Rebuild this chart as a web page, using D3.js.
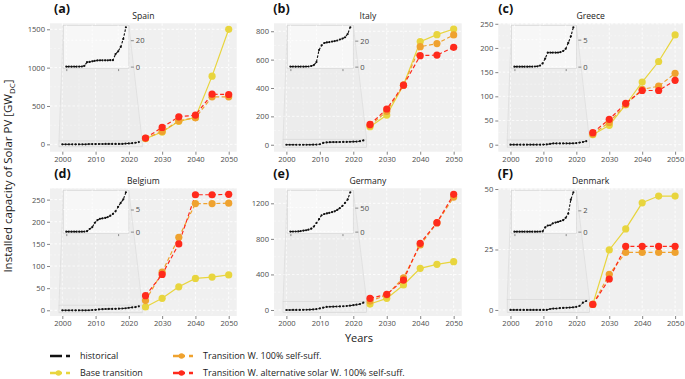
<!DOCTYPE html>
<html><head><meta charset="utf-8">
<script src="https://cdn.jsdelivr.net/npm/d3@7"></script>
<style>body{margin:0;background:#fff;} text{font-family:"Open Sans",sans-serif;}</style>
</head><body><svg id="c" width="685" height="379"></svg>
<script>
// ---------------- DATA ----------------
const histYears = [2000,2001,2002,2003,2004,2005,2006,2007,2008,2009,2010,2011,2012,2013,2014,2015,2016,2017,2018,2019,2020,2021,2022,2023];
const scenYears = [2025,2030,2035,2040,2045,2050];

const countries = ["Spain","Italy","Greece","Belgium","Germany","Denmark"];
const panelTags = ["(a)","(b)","(c)","(d)","(e)","(F)"];

const histSpain   = [0.01,0.01,0.02,0.03,0.02,0.05,0.1,0.6,3.4,3.6,4.0,4.4,4.7,4.8,4.8,4.8,4.8,4.9,4.9,9.5,11.6,14.9,21.0,29.8];
const histItaly   = [0.02,0.02,0.02,0.03,0.03,0.03,0.05,0.12,0.5,1.2,3.5,12.8,16.4,18.2,18.6,18.9,19.3,19.7,20.1,20.9,21.6,22.6,25.1,30.3];
const histGreece  = [0,0,0,0,0,0,0.01,0.01,0.02,0.05,0.2,0.6,1.5,2.6,2.6,2.6,2.6,2.6,2.7,2.9,3.3,4.4,5.6,7.3];
const histBelgium = [0,0,0,0,0,0,0,0.02,0.1,0.6,1.0,2.0,2.6,2.9,3.0,3.1,3.3,3.6,4.0,4.6,5.6,6.5,7.3,8.9];
const histGermany = [0.1,0.2,0.3,0.4,1.1,2.1,2.9,4.2,6.1,10.6,18.0,25.9,34.1,36.7,37.9,39.2,40.7,42.3,45.2,49.0,53.8,60.0,67.0,82.0];
const histDenmark = [0,0,0,0,0,0,0,0,0,0,0.01,0.02,0.4,0.57,0.6,0.78,0.85,0.91,1.0,1.08,1.3,1.7,3.0,3.7];

const baseSpain   = [75,160,300,350,889,1500];
const selfSpain   = [78,168,307,346,619,619];
const altSpain    = [82,221,359,381,654,650];
const baseItaly   = [127,209,421,727,776,816];
const selfItaly   = [135,235,420,691,713,774];
const altItaly    = [143,252,420,628,632,687];
const baseGreece  = [20.7,40,82.6,129.5,172,227];
const selfGreece  = [22,46,83,114.4,121,147.5];
const altGreece   = [24.8,52.4,85.5,112,112,133];
const baseBelgium = [7.5,27,53,72,75,80];
const selfBelgium = [22,86,165,241,241,242];
const altBelgium  = [33,81,150,261,261,262];
const baseGermany = [67,131,281,469,514,544];
const selfGermany = [100,170,363,731,980,1270];
const altGermany  = [131,176,337,750,982,1301];
const baseDenmark = [2.3,24.8,33.5,44.3,47.1,47.1];
const selfDenmark = [2.3,14.7,23.8,23.8,23.8,23.8];
const altDenmark  = [2.3,12.8,26.3,26.3,26.3,26.3];

const yTicksMain = [[0,500,1000,1500],[0,200,400,600,800],[0,50,100,150,200,250],[0,50,100,150,200,250],[0,400,800,1200],[0,25,50]];
const yTicksInset = [[0,20],[0,20],[0,5],[0,5],[0,50],[0,2]];
const xTicks = [2000,2010,2020,2030,2040,2050];
const insetXTicks = [2000,2020];

const seriesNames = ["historical","Base transition","Transition W. 100% self-suff.","Transition W. alternative solar W. 100% self-suff."];

// ---------------- LAYOUT / STYLE ----------------
const hists = [histSpain,histItaly,histGreece,histBelgium,histGermany,histDenmark];
const bases = [baseSpain,baseItaly,baseGreece,baseBelgium,baseGermany,baseDenmark];
const selfs = [selfSpain,selfItaly,selfGreece,selfBelgium,selfGermany,selfDenmark];
const alts  = [altSpain,altItaly,altGreece,altBelgium,altGermany,altDenmark];
const yDomains = [[-96,1578],[-49,856],[-14.5,251],[-12.9,275.6],[-67.5,1369],[-2.5,50.3]];

const colL = [50,274,498.3], colR = [236.7,461.7,683];
const rowT = [23.3,188.3], rowB = [151.7,316];
const tagX = [54,273.3,498.3,54.3,273.3,497.7];
const C = {hist:"#111111", base:"#E8D53E", self:"#EFA22F", alt:"#FF2A1C"};
const tickCol = "#4d4d4d";
const fmt = d3.format("d");

const svg = d3.select("#c");

function drawPanel(i){
  const col = i%3, row = Math.floor(i/3);
  const L = colL[col], R = colR[col], T = rowT[row], B = rowB[row];
  const x = d3.scaleLinear().domain([1996.3,2052.4]).range([L,R]);
  const y = d3.scaleLinear().domain(yDomains[i]).range([B,T]);
  const g = svg.append("g");
  g.append("rect").attr("x",L).attr("y",T).attr("width",R-L).attr("height",B-T).attr("fill","#f0f0f0");
  const yt = yTicksMain[i];
  const step = yt[1]-yt[0];
  const minorY = yt.map(v=>v+step/2).filter(v=>y(v)>T);
  const minorX = [2005,2015,2025,2035,2045];
  g.selectAll(null).data(minorY).enter().append("line")
    .attr("x1",L).attr("x2",R).attr("y1",d=>y(d)).attr("y2",d=>y(d))
    .attr("stroke","#fafafa").attr("stroke-width",0.5).attr("stroke-dasharray","2,2");
  g.selectAll(null).data(minorX).enter().append("line")
    .attr("y1",T).attr("y2",B).attr("x1",d=>x(d)).attr("x2",d=>x(d))
    .attr("stroke","#fafafa").attr("stroke-width",0.5).attr("stroke-dasharray","2,2");
  g.selectAll(null).data(yt).enter().append("line")
    .attr("x1",L).attr("x2",R).attr("y1",d=>y(d)).attr("y2",d=>y(d))
    .attr("stroke","#ffffff").attr("stroke-width",0.9).attr("stroke-dasharray","2.5,2");
  g.selectAll(null).data(xTicks).enter().append("line")
    .attr("y1",T).attr("y2",B).attr("x1",d=>x(d)).attr("x2",d=>x(d))
    .attr("stroke","#ffffff").attr("stroke-width",0.9).attr("stroke-dasharray","2.5,2");

  const ya = d3.axisLeft(y).tickValues(yt).tickFormat(fmt).tickSize(3).tickPadding(2);
  const ga = g.append("g").attr("transform",`translate(${L},0)`).call(ya);
  const xa = d3.axisBottom(x).tickValues(xTicks).tickFormat(fmt).tickSize(3).tickPadding(2);
  const gx = g.append("g").attr("transform",`translate(0,${B})`).call(xa);
  [ga,gx].forEach(a=>{
    a.select(".domain").remove();
    a.selectAll(".tick line").attr("stroke","#333").attr("stroke-width",0.6);
    a.selectAll(".tick text").attr("fill",tickCol).style("font-size","7.6px").style("font-family","'Open Sans',sans-serif");
  });

  const hist = hists[i];
  const hmax = d3.max(hist);
  const iL = x(2000.3), iR = x(2020), iT = T+2, iB = T+45.3;
  const tL = x(1999), tR = x(2024), tT = y(hmax*1.05)-1, tB = y(0)+2.5;
  g.append("path").attr("d",`M${iL},${iT}L${iR},${iT}L${tR},${tT}L${tR},${tB}L${tL},${tB}L${tL},${tT}Z`)
    .attr("fill","rgba(0,0,0,0.014)");
  g.append("line").attr("x1",iL).attr("y1",iT).attr("x2",tL).attr("y2",tT).attr("stroke","#d8d8d8").attr("stroke-width",0.6);
  g.append("line").attr("x1",iR).attr("y1",iT).attr("x2",tR).attr("y2",tT).attr("stroke","#d8d8d8").attr("stroke-width",0.6);
  g.append("rect").attr("x",tL).attr("y",tT).attr("width",tR-tL).attr("height",tB-tT)
    .attr("fill","none").attr("stroke","#d4d4d4").attr("stroke-width",0.6);

  const hpts = histYears.map((yr,k)=>[yr,hist[k]]);
  const line = d3.line().x(d=>x(d[0])).y(d=>y(d[1]));
  g.append("path").attr("d",line(hpts)).attr("fill","none").attr("stroke",C.hist).attr("stroke-width",1).attr("stroke-dasharray","2.5,1.5");
  g.selectAll(null).data(hpts).enter().append("circle").attr("cx",d=>x(d[0])).attr("cy",d=>y(d[1])).attr("r",1.1).attr("fill",C.hist);

  [[bases[i],C.base,null],[selfs[i],C.self,"4,2.5"],[alts[i],C.alt,"4,2.5"]].forEach(([vals,color,dash])=>{
    const pts = scenYears.map((yr,k)=>[yr,vals[k]]);
    const p = g.append("path").attr("d",line(pts)).attr("fill","none").attr("stroke",color).attr("stroke-width",1.2);
    if(dash) p.attr("stroke-dasharray",dash);
  });
  [[bases[i],C.base],[selfs[i],C.self],[alts[i],C.alt]].forEach(([vals,color])=>{
    const pts = scenYears.map((yr,k)=>[yr,vals[k]]);
    g.selectAll(null).data(pts).enter().append("circle").attr("cx",d=>x(d[0])).attr("cy",d=>y(d[1])).attr("r",3.6).attr("fill",color);
  });

  const ix = d3.scaleLinear().domain([1998.85,2024.15]).range([iL,iR]);
  const iy = d3.scaleLinear().domain([-0.05*hmax,1.05*hmax]).range([iB,iT]);
  const gi = svg.append("g");
  gi.append("rect").attr("x",iL).attr("y",iT).attr("width",iR-iL).attr("height",iB-iT)
    .attr("fill","#f7f7f7").attr("stroke","#d6d6d6").attr("stroke-width",0.7);
  gi.selectAll(null).data(yTicksInset[i]).enter().append("line")
    .attr("x1",iL).attr("x2",iR).attr("y1",d=>iy(d)).attr("y2",d=>iy(d))
    .attr("stroke","#ffffff").attr("stroke-width",0.8).attr("stroke-dasharray","2,2");
  gi.selectAll(null).data([2000,2010,2020]).enter().append("line")
    .attr("y1",iT).attr("y2",iB).attr("x1",d=>ix(d)).attr("x2",d=>ix(d))
    .attr("stroke","#ffffff").attr("stroke-width",0.8).attr("stroke-dasharray","2,2");
  const iya = d3.axisRight(iy).tickValues(yTicksInset[i]).tickFormat(fmt).tickSize(3).tickPadding(2);
  const gia = gi.append("g").attr("transform",`translate(${iR+2},0)`).call(iya);
  const ixa = d3.axisBottom(ix).tickValues(insetXTicks).tickFormat("").tickSize(2);
  const gix = gi.append("g").attr("transform",`translate(0,${iB+0.5})`).call(ixa);
  [gia,gix].forEach(a=>{
    a.select(".domain").remove();
    a.selectAll(".tick line").attr("stroke","#444").attr("stroke-width",0.6);
    a.selectAll(".tick text").attr("fill",tickCol).style("font-size","7.6px").style("font-family","'Open Sans',sans-serif");
  });
  const iline = d3.line().x(d=>ix(d[0])).y(d=>iy(d[1]));
  gi.append("path").attr("d",iline(hpts)).attr("fill","none").attr("stroke",C.hist).attr("stroke-width",1.1).attr("stroke-dasharray","2.5,1.5");
  gi.selectAll(null).data(hpts).enter().append("circle").attr("cx",d=>ix(d[0])).attr("cy",d=>iy(d[1])).attr("r",1.1).attr("fill",C.hist);

  svg.append("text").attr("x",(L+R)/2).attr("y",T-4.5).attr("text-anchor","middle")
    .style("font-size","8.6px").attr("fill","#1a1a1a").text(countries[i]);
  svg.append("text").attr("x",tagX[i]).attr("y",T-10).style("font-size","12.5px").style("font-weight","bold")
    .attr("fill","#111").text(panelTags[i]);
}
for(let i=0;i<6;i++) drawPanel(i);

const yl = svg.append("text").attr("transform","translate(12,176) rotate(-90)").attr("text-anchor","middle")
  .style("font-size","11.5px").attr("fill","#1a1a1a");
yl.append("tspan").text("Installed capacity of Solar PV [GW");
yl.append("tspan").attr("dy",2.5).style("font-size","8px").text("DC");
yl.append("tspan").attr("dy",-2.5).text("]");
svg.append("text").attr("x",359).attr("y",342).attr("text-anchor","middle").style("font-size","11px").attr("fill","#1a1a1a").text("Years");

const legItems = [
  {name:seriesNames[0], color:C.hist, pt:false, x:50, y:356},
  {name:seriesNames[1], color:C.base, pt:true, x:50, y:373},
  {name:seriesNames[2], color:C.self, pt:true, x:173, y:356},
  {name:seriesNames[3], color:C.alt,  pt:true, x:173, y:373}
];
const lg = svg.append("g");
legItems.forEach(it=>{
  lg.append("line").attr("x1",it.x).attr("x2",it.x+20).attr("y1",it.y).attr("y2",it.y)
    .attr("stroke",it.color).attr("stroke-width",2.6).attr("stroke-dasharray","12,4,4,4");
  if(it.pt) lg.append("circle").attr("cx",it.x+8.5).attr("cy",it.y).attr("r",2.8).attr("fill",it.color);
  lg.append("text").attr("x",it.x+30).attr("y",it.y+3.2).style("font-size","9px").attr("fill","#1a1a1a").text(it.name);
});
</script></body></html>
